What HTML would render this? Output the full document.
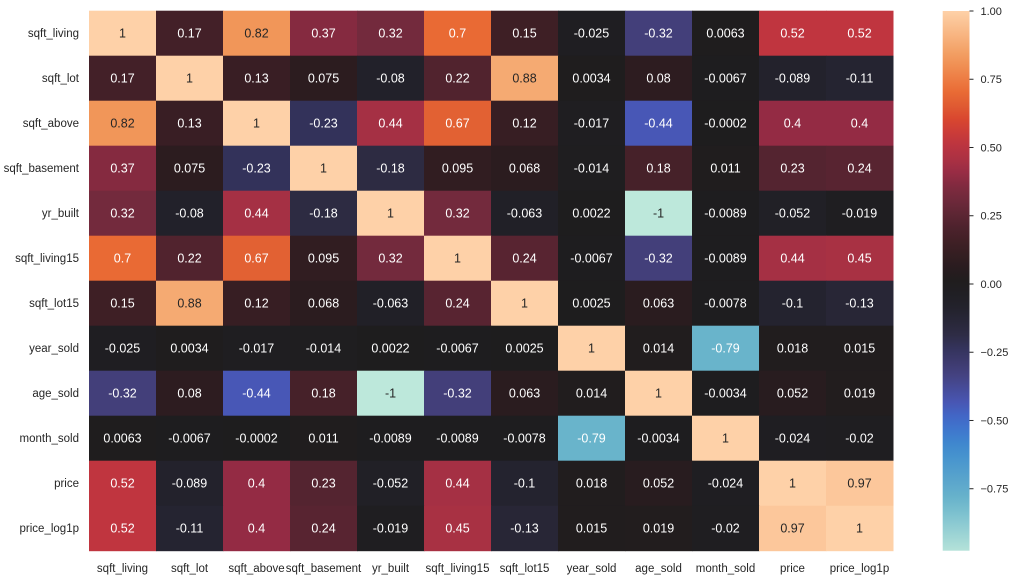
<!DOCTYPE html>
<html><head><meta charset="utf-8"><style>
html,body{margin:0;padding:0;background:#fff;width:1014px;height:581px;overflow:hidden}
svg text{font-family:"Liberation Sans","DejaVu Sans",sans-serif}
</style></head><body>
<svg id="chart" width="1014" height="581" xmlns="http://www.w3.org/2000/svg">
<defs><linearGradient id="cbgrad" x1="0" y1="1" x2="0" y2="0"></linearGradient></defs>
<g id="cells"></g>
<g id="ylab"></g>
<g id="xlab"></g>
<g id="cbar"></g>
</svg>
<script>
const rows = ["sqft_living","sqft_lot","sqft_above","sqft_basement","yr_built","sqft_living15","sqft_lot15","year_sold","age_sold","month_sold","price","price_log1p"];
const cols = rows.slice();
const values = [
[1,0.17,0.82,0.37,0.32,0.7,0.15,-0.025,-0.32,0.0063,0.52,0.52],
[0.17,1,0.13,0.075,-0.08,0.22,0.88,0.0034,0.08,-0.0067,-0.089,-0.11],
[0.82,0.13,1,-0.23,0.44,0.67,0.12,-0.017,-0.44,-0.0002,0.4,0.4],
[0.37,0.075,-0.23,1,-0.18,0.095,0.068,-0.014,0.18,0.011,0.23,0.24],
[0.32,-0.08,0.44,-0.18,1,0.32,-0.063,0.0022,-1,-0.0089,-0.052,-0.019],
[0.7,0.22,0.67,0.095,0.32,1,0.24,-0.0067,-0.32,-0.0089,0.44,0.45],
[0.15,0.88,0.12,0.068,-0.063,0.24,1,0.0025,0.063,-0.0078,-0.1,-0.13],
[-0.025,0.0034,-0.017,-0.014,0.0022,-0.0067,0.0025,1,0.014,-0.79,0.018,0.015],
[-0.32,0.08,-0.44,0.18,-1,-0.32,0.063,0.014,1,-0.0034,0.052,0.019],
[0.0063,-0.0067,-0.0002,0.011,-0.0089,-0.0089,-0.0078,-0.79,-0.0034,1,-0.024,-0.02],
[0.52,-0.089,0.4,0.23,-0.052,0.44,-0.1,0.018,0.052,-0.024,1,0.97],
[0.52,-0.11,0.4,0.24,-0.019,0.45,-0.13,0.015,0.019,-0.02,0.97,1]
];
const cbTicks = [1,0.75,0.5,0.25,0,-0.25,-0.5,-0.75];
const cbTickLabels = ["1.00","0.75","0.50","0.25","0.00","\u22120.25","\u22120.50","\u22120.75"];

const NS="http://www.w3.org/2000/svg";
const X0=89, Y0=10.7, CW=67, CH=45;
const CBX=942.7, CBW=26.8, CBTOP=11, CBBOT=550.7, VMAX=1, VMIN=-0.977;
const stops=[[-1,"#bde8db"],[-0.79,"#69b4cb"],[-0.6,"#3f8ccf"],[-0.5,"#3f6ccc"],[-0.44,"#4857b6"],[-0.32,"#433f7a"],[-0.23,"#33325a"],[-0.18,"#2d2b42"],[-0.08,"#22212a"],[0,"#1e1d1e"],[0.07,"#2b1c1f"],[0.15,"#3e1f25"],[0.22,"#51232e"],[0.32,"#732a3d"],[0.37,"#852a40"],[0.4,"#942b44"],[0.44,"#a53044"],[0.52,"#c0353f"],[0.6,"#d8452f"],[0.67,"#e26133"],[0.7,"#e96a34"],[0.82,"#f19659"],[0.88,"#f5aa72"],[1,"#fed1a8"]];
function hex(h){return [1,3,5].map(i=>parseInt(h.substr(i,2),16));}
function color(v){
  v=Math.max(-1,Math.min(1,v));
  for(let i=0;i<stops.length-1;i++){
    const a=stops[i],b=stops[i+1];
    if(v>=a[0]&&v<=b[0]){
      const t=(v-a[0])/(b[0]-a[0]),ca=hex(a[1]),cb=hex(b[1]);
      return ca.map((c,k)=>Math.round(c+(cb[k]-c)*t));
    }
  }
  return hex(stops[stops.length-1][1]);
}
function lum(c){const l=c.map(x=>{x/=255;return x<=0.03928?x/12.92:Math.pow((x+0.055)/1.055,2.4);});return 0.2126*l[0]+0.7152*l[1]+0.0722*l[2];}
const xPos=j=>X0+j*CW, yPos=i=>Y0+i*CH;
const cbY=v=>CBTOP+(VMAX-v)/(VMAX-VMIN)*(CBBOT-CBTOP);
function fmt(v){return String(Number(v.toPrecision(2)));}
function mk(tag,attrs,parent){const e=document.createElementNS(NS,tag);for(const k in attrs)e.setAttribute(k,attrs[k]);parent.appendChild(e);return e;}

const gC=document.getElementById('cells');
values.forEach((row,i)=>row.forEach((v,j)=>{
  const c=color(v);
  const r=mk('rect',{x:xPos(j),y:yPos(i),width:CW+0.5,height:CH+0.5,fill:`rgb(${c})`},gC);
  
  
  const t=mk('text',{x:xPos(j)+CW/2,y:yPos(i)+CH/2+4.5,'text-anchor':'middle','font-size':'12.5',fill:lum(c)>0.408?'#262626':'#ffffff'},gC);
  
  
  t.textContent=fmt(v);
}));
const gY=document.getElementById('ylab');
rows.forEach((n,i)=>{
  const t=mk('text',{x:X0-10,y:yPos(i)+CH/2+4,'text-anchor':'end','font-size':'11.5',fill:'#262626'},gY);
  
  
  t.textContent=n;
});
const gX=document.getElementById('xlab');
cols.forEach((n,j)=>{
  const t=mk('text',{x:xPos(j)+CW/2,y:572,'text-anchor':'middle','font-size':'11.5',fill:'#262626'},gX);
  
  
  t.textContent=n;
});
const grad=document.getElementById('cbgrad');
for(let k=0;k<=40;k++){
  const v=VMIN+(VMAX-VMIN)*k/40;
  mk('stop',{offset:(k/40),'stop-color':`rgb(${color(v)})`},grad);
}
const gB=document.getElementById('cbar');
const cb=mk('rect',{x:CBX,y:CBTOP,width:CBW,height:CBBOT-CBTOP,fill:'url(#cbgrad)'},gB);


cbTicks.forEach((v,k)=>{
  const y=cbY(v);
  const l=mk('line',{x1:CBX+CBW,x2:CBX+CBW+4,y1:y,y2:y,stroke:'#262626','stroke-width':1},gB);
  
  
  const t=mk('text',{x:CBX+CBW+11,y:y+4,'font-size':'11',fill:'#262626'},gB);
  
  
  t.textContent=cbTickLabels[k];
});
</script>
</body></html>
